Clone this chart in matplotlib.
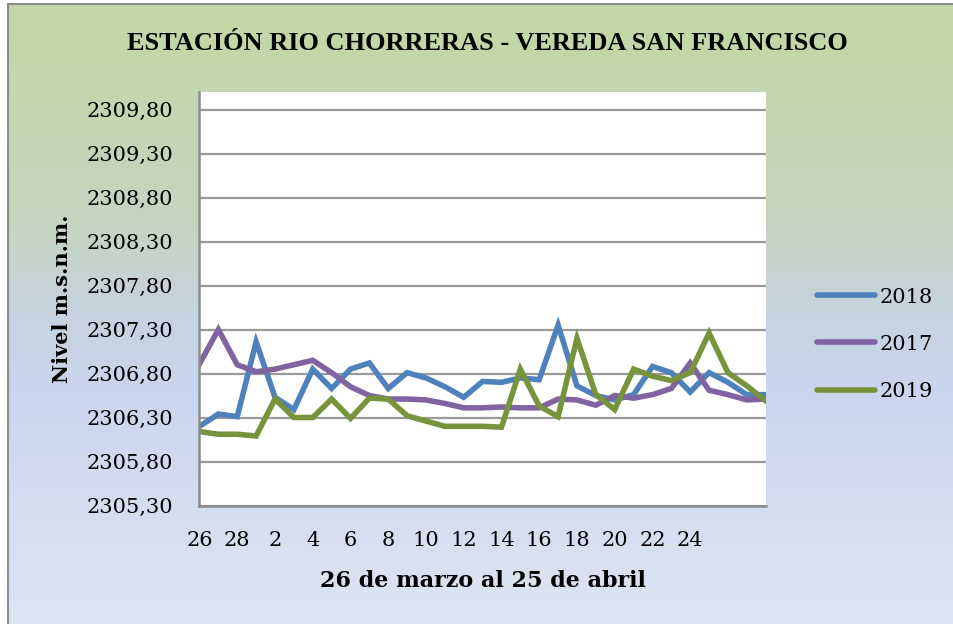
import numpy as np
import matplotlib
matplotlib.use("Agg")
import matplotlib.pyplot as plt
from matplotlib.colors import LinearSegmentedColormap
from matplotlib.patches import Rectangle

# 26 de marzo al 25 de abril (31 lecturas por año)
etiquetas = ['26', '28', '2', '4', '6', '8', '10', '12', '14', '16', '18', '20', '22', '24']

nivel_2018 = [2306.20, 2306.34, 2306.31, 2307.16, 2306.53, 2306.39, 2306.85, 2306.63,
              2306.85, 2306.92, 2306.63, 2306.81, 2306.75, 2306.65, 2306.53, 2306.71,
              2306.70, 2306.75, 2306.73, 2307.35, 2306.66, 2306.55, 2306.50, 2306.56,
              2306.88, 2306.81, 2306.59, 2306.81, 2306.70, 2306.56, 2306.56]
nivel_2017 = [2306.91, 2307.30, 2306.90, 2306.82, 2306.85, 2306.90, 2306.95, 2306.81,
              2306.65, 2306.55, 2306.51, 2306.51, 2306.50, 2306.46, 2306.41, 2306.41,
              2306.42, 2306.41, 2306.41, 2306.51, 2306.50, 2306.44, 2306.55, 2306.52,
              2306.56, 2306.63, 2306.92, 2306.61, 2306.56, 2306.50, 2306.51]
nivel_2019 = [2306.14, 2306.11, 2306.11, 2306.09, 2306.51, 2306.30, 2306.30, 2306.51,
              2306.29, 2306.52, 2306.51, 2306.32, 2306.26, 2306.20, 2306.20, 2306.20,
              2306.19, 2306.85, 2306.43, 2306.31, 2307.20, 2306.56, 2306.39, 2306.85,
              2306.77, 2306.72, 2306.81, 2307.26, 2306.81, 2306.66, 2306.49]

y_ticks = [2305.30, 2305.80, 2306.30, 2306.80, 2307.30, 2307.80, 2308.30, 2308.80, 2309.30, 2309.80]

series = [("2018", nivel_2018, "#4F81BD"),
          ("2017", nivel_2017, "#8064A2"),
          ("2019", nivel_2019, "#77933C")]

W, H = 954, 624
fig = plt.figure(figsize=(W / 100, H / 100), dpi=100)
fig.patch.set_facecolor("white")

# fondo degradado verde -> azul
bg = fig.add_axes([8 / W, 0, 1 - 8 / W, 1 - 4 / H])
cmap = LinearSegmentedColormap.from_list(
    "fondo", [(0.0, "#C3D7A4"), (0.35, "#C5D5BF"), (0.5, "#C6D3E0"),
              (0.62, "#C9D6EE"), (1.0, "#DEE5F3")])
grad = np.linspace(0, 1, 256).reshape(-1, 1)
bg.imshow(grad, aspect="auto", cmap=cmap, extent=[0, 1, 1, 0])
bg.set_axis_off()
fig.add_artist(Rectangle((8 / W, -0.01), 1.0, 1 - 4 / H + 0.01, transform=fig.transFigure,
                         fill=False, edgecolor="#8C8C8C", linewidth=1.5))

ax = fig.add_axes([199.5 / W, 1 - 505.5 / H, 566.2 / W, 413.5 / H])
ax.set_facecolor("white")

x = np.arange(len(nivel_2018))
for nombre, valores, color in series:
    ax.plot(x, valores, color=color, linewidth=4.0, label=nombre, solid_joinstyle="miter")

ax.set_xlim(0, len(x) - 1)
ax.set_ylim(2305.30, 2310.0)
ax.set_yticks(y_ticks)
ax.set_yticklabels([f"{v:.2f}".replace(".", ",") for v in y_ticks])
ax.set_xticks(np.arange(0, 2 * len(etiquetas), 2))
ax.set_xticklabels(etiquetas)
ax.tick_params(axis="both", length=0, labelsize=15)
ax.tick_params(axis="y", pad=19)
ax.tick_params(axis="x", pad=18)
for lab in ax.get_xticklabels() + ax.get_yticklabels():
    lab.set_family("DejaVu Serif")

ax.grid(axis="y", color="#9A9A9A", linewidth=1.6)
ax.set_axisbelow(True)
for s in ["top", "right"]:
    ax.spines[s].set_visible(False)
for s in ["left", "bottom"]:
    ax.spines[s].set_color("#8C8C8C")
    ax.spines[s].set_linewidth(1.8)

ax.set_ylabel("Nivel m.s.n.m.", fontsize=15, fontweight="bold", family="DejaVu Serif")
ax.yaxis.set_label_coords(-0.225, 0.5)
ax.set_xlabel("26 de marzo al 25 de abril", fontsize=16, fontweight="bold", family="DejaVu Serif")
ax.xaxis.set_label_coords(0.5, -0.155)

fig.text(487 / W, 1 - 44 / H, "ESTACIÓN RIO CHORRERAS - VEREDA SAN FRANCISCO",
         ha="center", va="center", fontsize=19, fontweight="bold", family="Liberation Serif")

leg = ax.legend(loc="center left", bbox_to_anchor=(1.09, 0.39), frameon=False,
                prop={"family": "DejaVu Serif", "size": 15}, handlelength=2.8,
                handletextpad=0.2, labelspacing=1.35, borderpad=0, borderaxespad=0)
for h in leg.get_lines():
    h.set_solid_capstyle("round")

fig.savefig("out.png", dpi=100)
